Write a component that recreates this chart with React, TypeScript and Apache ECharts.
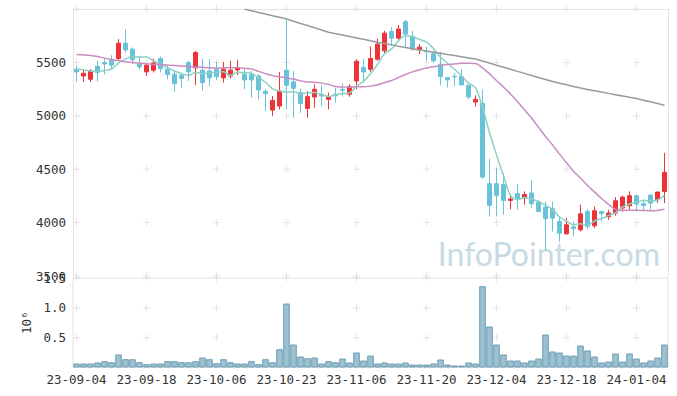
import React, { useEffect, useRef } from 'react';
import * as echarts from 'echarts';

const dates = [
  '23-09-04','23-09-05','23-09-06','23-09-07','23-09-08','23-09-11','23-09-12','23-09-13','23-09-14','23-09-15',
  '23-09-18','23-09-19','23-09-20','23-09-21','23-09-22','23-09-25','23-09-26','23-09-27','23-10-04','23-10-05',
  '23-10-06','23-10-10','23-10-11','23-10-12','23-10-13','23-10-16','23-10-17','23-10-18','23-10-19','23-10-20',
  '23-10-23','23-10-24','23-10-25','23-10-26','23-10-27','23-10-30','23-10-31','23-11-01','23-11-02','23-11-03',
  '23-11-06','23-11-07','23-11-08','23-11-09','23-11-10','23-11-13','23-11-14','23-11-15','23-11-16','23-11-17',
  '23-11-20','23-11-21','23-11-22','23-11-23','23-11-24','23-11-27','23-11-28','23-11-29','23-11-30','23-12-01',
  '23-12-04','23-12-05','23-12-06','23-12-07','23-12-08','23-12-11','23-12-12','23-12-13','23-12-14','23-12-15',
  '23-12-18','23-12-19','23-12-20','23-12-21','23-12-22','23-12-26','23-12-27','23-12-28','24-01-02','24-01-03',
  '24-01-04','24-01-05','24-01-08','24-01-09','24-01-10',
];

const opens = [
  5436,5373,5342,5464,5499,5517,5536,5680,5624,5483,
  5411,5427,5536,5436,5389,5380,5499,5449,5427,5420,
  5436,5355,5373,5430,5389,5389,5373,5229,5054,5091,
  5427,5317,5217,5069,5176,5201,5154,5201,5248,5201,
  5326,5452,5436,5530,5608,5790,5727,5881,5743,5618,
  5605,5580,5483,5358,5370,5367,5286,5129,5116,4364,
  4364,4355,4208,4271,4230,4277,4189,4145,4130,4011,
  3895,3960,3932,4104,3970,4104,4054,4089,4136,4158,
  4252,4177,4258,4214,4292,
];
const closes = [
  5411,5398,5420,5405,5486,5474,5680,5618,5524,5458,
  5474,5496,5442,5386,5301,5351,5411,5593,5311,5355,
  5367,5436,5427,5449,5336,5336,5242,5207,5145,5232,
  5286,5257,5116,5179,5248,5185,5179,5188,5239,5273,
  5511,5411,5536,5671,5774,5727,5812,5765,5624,5643,
  5599,5514,5367,5336,5364,5289,5176,5154,4427,4161,
  4255,4208,4220,4224,4264,4177,4105,4036,4042,3901,
  3979,3942,4082,3963,4111,4085,4089,4205,4239,4252,
  4173,4161,4183,4286,4471,
];
const lows = [
  5317,5317,5317,5320,5389,5436,5514,5593,5483,5436,
  5373,5405,5405,5342,5226,5257,5326,5289,5239,5279,
  5336,5311,5348,5380,5248,5170,5154,5044,4997,5060,
  5060,4982,5029,4982,5076,5091,5060,5123,5179,5179,
  5248,5311,5411,5514,5577,5655,5702,5640,5608,5577,
  5514,5499,5286,5264,5279,5286,5154,5085,4408,4058,
  4058,4073,4126,4120,4167,4136,4095,3744,3917,3823,
  3885,3876,3916,3938,3948,4010,4026,4064,4104,4120,
  4104,4114,4120,4183,4183,
];
const highs = [
  5467,5436,5436,5514,5536,5567,5718,5812,5640,5561,
  5492,5536,5555,5467,5420,5405,5514,5608,5530,5530,
  5505,5505,5514,5524,5436,5420,5389,5248,5185,5411,
  5906,5420,5254,5232,5295,5286,5217,5264,5305,5295,
  5530,5530,5649,5724,5796,5828,5850,5897,5796,5671,
  5649,5608,5599,5361,5398,5436,5286,5192,5248,4596,
  4512,4465,4261,4361,4293,4396,4214,4198,4198,4058,
  4042,4010,4167,4129,4151,4111,4120,4239,4252,4292,
  4261,4220,4261,4292,4653,
];
const ma5 = [
  5440,5430,5420,5415,5424,5437,5493,5533,5556,5551,
  5551,5514,5479,5451,5420,5395,5378,5408,5393,5404,
  5407,5412,5379,5407,5403,5397,5358,5314,5253,5232,
  5222,5225,5207,5214,5217,5197,5181,5196,5208,5213,
  5278,5324,5394,5480,5581,5624,5704,5750,5740,5714,
  5689,5629,5549,5492,5436,5374,5306,5264,5082,4841,
  4635,4441,4254,4214,4234,4219,4198,4161,4125,4052,
  4013,3980,3989,3973,4015,4037,4066,4091,4146,4174,
  4192,4206,4202,4211,4255,
];
const ma20 = [
  5575,5570,5565,5555,5540,5528,5515,5505,5499,5492,
  5487,5483,5480,5476,5472,5467,5462,5458,5454,5450,
  5448,5449,5450,5452,5444,5438,5416,5395,5376,5365,
  5355,5344,5327,5317,5314,5306,5294,5274,5270,5266,
  5274,5272,5278,5289,5311,5330,5359,5387,5411,5431,
  5447,5460,5472,5480,5486,5491,5491,5489,5449,5393,
  5330,5270,5204,5132,5056,4979,4894,4807,4728,4641,
  4560,4481,4417,4348,4286,4226,4171,4124,4114,4119,
  4115,4113,4111,4114,4124,
];
const ma120 = [
  null,null,null,null,null,null,null,null,null,null,
  null,null,null,null,null,null,null,null,null,null,
  null,null,null,null,5999,5984,5968,5953,5937,5922,
  5906,5886,5865,5845,5824,5803,5783,5769,5756,5742,
  5729,5716,5702,5689,5677,5664,5651,5639,5628,5617,
  5606,5596,5585,5574,5564,5553,5542,5531,5513,5494,
  5474,5455,5436,5416,5397,5378,5359,5340,5322,5304,
  5290,5275,5260,5247,5235,5222,5210,5198,5186,5174,
  5161,5146,5131,5115,5098,
];
const volumes = [
  0.067,0.067,0.067,0.084,0.106,0.089,0.218,0.139,0.139,0.089,
  0.055,0.067,0.067,0.106,0.106,0.089,0.089,0.106,0.167,0.139,
  0.072,0.139,0.089,0.067,0.067,0.106,0.055,0.139,0.089,0.307,
  1.072,0.385,0.184,0.156,0.167,0.067,0.106,0.089,0.15,0.084,
  0.251,0.117,0.2,0.067,0.084,0.067,0.067,0.084,0.05,0.05,
  0.05,0.067,0.134,0.05,0.034,0.034,0.084,0.067,1.362,0.687,
  0.385,0.218,0.117,0.117,0.084,0.117,0.15,0.553,0.268,0.251,
  0.2,0.2,0.368,0.285,0.184,0.084,0.1,0.235,0.1,0.235,
  0.15,0.084,0.117,0.167,0.385,
];

const priceTicks = [3500, 4000, 4500, 5000, 5500, 6000];
const volumeTicks = [0.5, 1.0, 1.5];
const tickEvery = 10;

const FONT = "'DejaVu Sans Mono', 'Liberation Mono', monospace";
const FS = 12.5;
const UP = '#ec3438';
const DOWN = '#68c2d9';
const FRAME = '#e4e4e4';

export default function App() {
  const ref = useRef<HTMLDivElement>(null);
  useEffect(() => {
    if (!ref.current) return;
    const chart = echarts.init(ref.current, null, { renderer: 'svg' });
    const candles = opens.map((o, i) => [o, closes[i], lows[i], highs[i]]);
    const tickCats: number[] = [];
    for (let i = 0; i < dates.length; i += tickEvery) tickCats.push(i);
    const crossMain: number[][] = [];
    tickCats.forEach((c) => priceTicks.forEach((v) => crossMain.push([c, v])));
    const crossVol: number[][] = [];
    tickCats.forEach((c) => volumeTicks.forEach((v) => crossVol.push([c, v])));
    const crossSymbol = 'path://M3,0H4V3H7V4H4V7H3V4H0V3H3Z';

    chart.setOption({
      animation: false,
      backgroundColor: '#ffffff',
      textStyle: { fontFamily: FONT },
      grid: [
        { left: 73, right: 9, top: 9, height: 267, show: false },
        { left: 73, right: 9, top: 278, height: 89.5, show: true, borderColor: FRAME, borderWidth: 1, backgroundColor: 'transparent' },
      ],
      graphic: [
        {
          type: 'text',
          right: 17,
          top: 237,
          silent: true,
          z: -1,
          style: { text: 'InfoPointer.com', fontSize: 32, fontFamily: "Lato, 'Open Sans', sans-serif", fill: '#c7dae5' },
        },
      ],
      xAxis: [
        {
          type: 'category', gridIndex: 0, data: dates, boundaryGap: true, position: 'top',
          axisLine: { show: true, lineStyle: { color: FRAME } },
          axisTick: { show: false }, axisLabel: { show: false }, splitLine: { show: false },
        },
        {
          type: 'category', gridIndex: 1, data: dates, boundaryGap: true,
          axisLine: { show: false }, axisTick: { show: false }, splitLine: { show: false },
          axisLabel: { interval: tickEvery - 1, color: '#333', fontSize: FS, fontFamily: FONT, margin: 5 },
        },
      ],
      yAxis: [
        {
          type: 'value', gridIndex: 0, min: 3500, max: 6000, interval: 500,
          axisLine: { show: true, lineStyle: { color: FRAME } }, axisTick: { show: false }, splitLine: { show: false },
          axisLabel: { color: '#333', fontSize: FS, fontFamily: FONT, margin: 7, showMaxLabel: false, formatter: (v: number) => String(v) },
        },
        {
          type: 'value', gridIndex: 1, min: 0, max: 1.5, interval: 0.5,
          axisLine: { show: false }, axisTick: { show: false }, splitLine: { show: false },
          axisLabel: { color: '#333', fontSize: FS, fontFamily: FONT, margin: 7, showMinLabel: false, formatter: (v: number) => v.toFixed(1) },
          name: '10⁶', nameLocation: 'middle', nameRotate: 90, nameGap: 33,
          nameTextStyle: { color: '#333', fontSize: FS, fontFamily: FONT },
        },
        {
          type: 'value', gridIndex: 0, min: 3500, max: 6000, interval: 500, position: 'right',
          axisLine: { show: true, lineStyle: { color: FRAME } }, axisTick: { show: false },
          axisLabel: { show: false }, splitLine: { show: false },
        },
      ],
      series: [
        {
          type: 'scatter', xAxisIndex: 0, yAxisIndex: 0, data: crossMain, symbol: crossSymbol, symbolSize: 7,
          itemStyle: { color: '#dddddd' }, silent: true, z: 1, clip: false,
        },
        {
          type: 'scatter', xAxisIndex: 1, yAxisIndex: 1, data: crossVol, symbol: crossSymbol, symbolSize: 7,
          itemStyle: { color: '#dddddd' }, silent: true, z: 1, clip: false,
        },
        {
          name: 'Price', type: 'candlestick', xAxisIndex: 0, yAxisIndex: 0, data: candles, barWidth: 5,
          itemStyle: { color: UP, color0: DOWN, borderColor: UP, borderColor0: DOWN, borderWidth: 1 },
          z: 3,
        },
        {
          name: 'MA5', type: 'line', xAxisIndex: 0, yAxisIndex: 0, data: ma5, showSymbol: false, smooth: 0.3,
          lineStyle: { color: '#8dd0c4', width: 1.5 }, z: 4,
        },
        {
          name: 'MA20', type: 'line', xAxisIndex: 0, yAxisIndex: 0, data: ma20, showSymbol: false, smooth: 0.3,
          lineStyle: { color: '#c98cc1', width: 1.5 }, z: 4,
        },
        {
          name: 'MA120', type: 'line', xAxisIndex: 0, yAxisIndex: 0, data: ma120, showSymbol: false,
          lineStyle: { color: '#9a9a9a', width: 1.5 }, z: 4, connectNulls: false,
        },
        {
          name: 'Volume', type: 'bar', xAxisIndex: 1, yAxisIndex: 1, data: volumes, barCategoryGap: '6%',
          itemStyle: { color: '#9cc1d1', borderColor: '#6c9db4', borderWidth: 1 }, z: 2,
        },
      ],
    });
    return () => chart.dispose();
  }, []);
  return (
    <div
      ref={ref}
      style={{ position: 'fixed', left: 0, top: 0, width: 677, height: 396, background: '#fff' }}
    />
  );
}
